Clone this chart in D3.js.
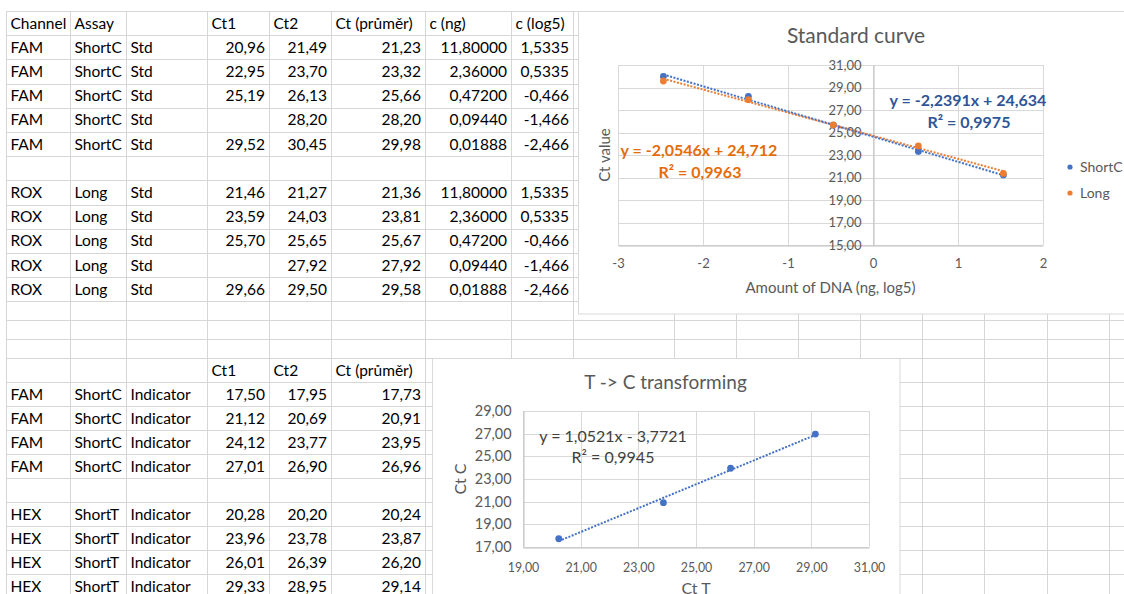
<!DOCTYPE html>
<html>
<head>
<meta charset="utf-8">
<script src="https://cdn.jsdelivr.net/npm/d3@7"></script>
<style>
  html, body { margin: 0; padding: 0; background: #fff; }
  svg { display: block; font-family: Lato, "Open Sans", sans-serif; }
</style>
</head>
<body>
<svg id="sheet" width="1124" height="594"></svg>
<script>
// ---- standard curve table
const stdHeader = ['Channel', 'Assay', '', 'Ct1', 'Ct2', 'Ct (průměr)', 'c (ng)', 'c (log5)'];
const shortCCt1 = [20.96, 22.95, 25.19, null, 29.52];
const shortCCt2 = [21.49, 23.70, 26.13, 28.20, 30.45];
const shortCCt = [21.23, 23.32, 25.66, 28.20, 29.98];
const longCt1 = [21.46, 23.59, 25.70, null, 29.66];
const longCt2 = [21.27, 24.03, 25.65, 27.92, 29.50];
const longCt = [21.36, 23.81, 25.67, 27.92, 29.58];
const dnaNg = [11.8, 2.36, 0.472, 0.0944, 0.01888];
const dnaLog5 = [1.5335, 0.5335, -0.466, -1.466, -2.466];

// ---- indicator table
const indHeader = ['Ct1', 'Ct2', 'Ct (průměr)'];
const indCCt1 = [17.50, 21.12, 24.12, 27.01];
const indCCt2 = [17.95, 20.69, 23.77, 26.90];
const indCCt = [17.73, 20.91, 23.95, 26.96];
const indTCt1 = [20.28, 23.96, 26.01, 29.33];
const indTCt2 = [20.20, 23.78, 26.39, 28.95];
const indTCt = [20.24, 23.87, 26.20, 29.14];

// trendlines: slope, intercept, r2
const shortCFit = [-2.2391, 24.634, 0.9975];
const longFit = [-2.0546, 24.712, 0.9963];
const transformFit = [1.0521, -3.7721, 0.9945];

// axis ticks
const stdXTicks = [-3, -2, -1, 0, 1, 2];
const stdYTicks = [15, 17, 19, 21, 23, 25, 27, 29, 31];
const tcXTicks = [19, 21, 23, 25, 27, 29, 31];
const tcYTicks = [17, 19, 21, 23, 25, 27, 29];
const seriesNames = ['ShortC', 'Long'];

// czech number format
const loc = d3.formatLocale({ decimal: ',', thousands: ' ', grouping: [3], currency: ['', ' Kč'], minus: '-' });
const f2 = loc.format('.2f');
const f5 = loc.format('.5f');
const f4 = loc.format('.4f');
const fInt = loc.format('d');
const fSig = loc.format('.5r');
const fLog = v => String(v).replace('.', ',');
const equation = fit => `y = ${fSig(fit[0])}x ${fit[1] < 0 ? '-' : '+'} ${fSig(Math.abs(fit[1]))}`;
const rSquared = fit => `R² = ${f4(fit[2])}`;

const svg = d3.select('#sheet');
svg.append('rect').attr('width', 1124).attr('height', 594).attr('fill', '#fff');

// ---- sheet grid
const colEdges = [6, 70, 126, 207, 269, 331, 425, 511, 573, 674, 736, 798, 860, 922, 984, 1047, 1109, 1171];
const rowEdges = [11, 35.2, 59.4, 83.6, 107.8, 132, 156.2, 180.4, 204.6, 228.8, 253, 277.2, 301.4,
  320, 339, 358, 382, 406, 430, 454, 478, 502, 526, 550, 574, 598];

const grid = svg.append('g').attr('stroke', '#d6d6d6').attr('stroke-width', 1);
grid.selectAll('.h').data(rowEdges).join('line')
  .attr('x1', colEdges[0]).attr('x2', 1124)
  .attr('y1', d => Math.round(d) + 0.5).attr('y2', d => Math.round(d) + 0.5);
grid.selectAll('.v').data(colEdges).join('line')
  .attr('x1', d => d + 0.5).attr('x2', d => d + 0.5)
  .attr('y1', rowEdges[0]).attr('y2', 594);

// build the cells
const cells = [];
function addRow(r, values) {
  values.forEach((v, c) => {
    if (v === '' || v == null) return;
    cells.push({ r, c, text: v.text || v, right: !!v.text });
  });
}
const num = (v, f) => v == null ? null : { text: f(v) };

addRow(0, stdHeader);
dnaLog5.forEach((d, i) => {
  addRow(1 + i, ['FAM', 'ShortC', 'Std', num(shortCCt1[i], f2), num(shortCCt2[i], f2), num(shortCCt[i], f2), num(dnaNg[i], f5), num(d, fLog)]);
  addRow(7 + i, ['ROX', 'Long', 'Std', num(longCt1[i], f2), num(longCt2[i], f2), num(longCt[i], f2), num(dnaNg[i], f5), num(d, fLog)]);
});
addRow(15, ['', '', ''].concat(indHeader));
indCCt.forEach((d, i) => {
  addRow(16 + i, ['FAM', 'ShortC', 'Indicator', num(indCCt1[i], f2), num(indCCt2[i], f2), num(d, f2)]);
  addRow(21 + i, ['HEX', 'ShortT', 'Indicator', num(indTCt1[i], f2), num(indTCt2[i], f2), num(indTCt[i], f2)]);
});

svg.append('g').attr('font-size', 15.5).attr('fill', '#000')
  .selectAll('text').data(cells).join('text')
  .attr('x', d => d.right ? colEdges[d.c + 1] - 4 : colEdges[d.c] + 4.5)
  .attr('y', d => (rowEdges[d.r] + rowEdges[d.r + 1]) / 2 + 5.5)
  .attr('text-anchor', d => d.right ? 'end' : 'start')
  .text(d => d.text);

// ---- helpers for the charts
function gridLines(g, x, y, xt, yt) {
  const gl = g.append('g').attr('stroke', '#d9d9d9');
  gl.selectAll('.gx').data(xt).join('line')
    .attr('x1', d => Math.round(x(d)) + 0.5).attr('x2', d => Math.round(x(d)) + 0.5)
    .attr('y1', y.range()[0]).attr('y2', y.range()[1]);
  gl.selectAll('.gy').data(yt).join('line')
    .attr('x1', x.range()[0]).attr('x2', x.range()[1])
    .attr('y1', d => Math.round(y(d)) + 0.5).attr('y2', d => Math.round(y(d)) + 0.5);
}
function styleAxis(g, size) {
  g.attr('font-family', null).attr('font-size', size);
  g.select('.domain').attr('stroke', '#bfbfbf');
  g.selectAll('text').attr('fill', '#595959');
}
function trend(g, x, y, xs, fit, color) {
  const ext = d3.extent(xs);
  g.append('line')
    .attr('x1', x(ext[0])).attr('y1', y(fit[0] * ext[0] + fit[1]))
    .attr('x2', x(ext[1])).attr('y2', y(fit[0] * ext[1] + fit[1]))
    .attr('stroke', color).attr('stroke-width', 2).attr('stroke-dasharray', '2 1.5');
}
function points(g, x, y, xs, ys, color) {
  g.selectAll(null).data(xs).join('circle')
    .attr('cx', d => x(d)).attr('cy', (d, i) => y(ys[i]))
    .attr('r', 3.4).attr('fill', color);
}

// ---- standard curve chart
const std = svg.append('g');
std.append('rect').attr('x', 578.5).attr('y', 11.5).attr('width', 600).attr('height', 302.5)
  .attr('fill', '#fff').attr('stroke', '#d9d9d9');
const sx = d3.scaleLinear().domain([-3, 2]).range([618, 1043]);
const sy = d3.scaleLinear().domain([15, 31]).range([245, 65]);
gridLines(std, sx, sy, stdXTicks, stdYTicks);

std.append('g').attr('transform', `translate(0,${Math.round(sy(15)) + 0.5})`)
  .call(d3.axisBottom(sx).tickValues(stdXTicks).tickSize(0).tickPadding(13).tickFormat(fInt))
  .call(g => styleAxis(g, 13));
std.append('g').attr('transform', `translate(${Math.round(sx(0)) + 0.5},0)`)
  .call(d3.axisLeft(sy).tickValues(stdYTicks).tickSize(0).tickPadding(12).tickFormat(f2))
  .call(g => styleAxis(g, 13));

std.append('text').attr('x', 856).attr('y', 42.5).attr('text-anchor', 'middle')
  .attr('font-size', 21).attr('fill', '#595959').text('Standard curve');
std.append('text').attr('x', 830.5).attr('y', 292.5).attr('text-anchor', 'middle')
  .attr('font-size', 15).attr('fill', '#595959').text('Amount of DNA (ng, log5)');
std.append('text').attr('transform', 'translate(605,155) rotate(-90)').attr('dy', '0.35em')
  .attr('text-anchor', 'middle').attr('font-size', 15).attr('fill', '#595959').text('Ct value');

const stdSeries = [
  { name: seriesNames[0], ys: shortCCt, fit: shortCFit, color: '#4472c4', ink: '#2f5597', lx: 968, ly: 106 },
  { name: seriesNames[1], ys: longCt, fit: longFit, color: '#ed7d31', ink: '#e46c0a', lx: 699, ly: 156 }
];
stdSeries.slice().reverse().forEach(s => trend(std, sx, sy, dnaLog5, s.fit, s.color));
stdSeries.forEach(s => points(std, sx, sy, dnaLog5, s.ys, s.color));
stdSeries.forEach(s => {
  const t = std.append('text').attr('text-anchor', 'middle').attr('font-size', 16)
    .attr('font-weight', 'bold').attr('fill', s.ink);
  t.append('tspan').attr('x', s.lx).attr('y', s.ly).text(equation(s.fit));
  t.append('tspan').attr('x', s.lx + 1).attr('y', s.ly + 21.5).text(rSquared(s.fit));
});

// legend
const leg = std.append('g').selectAll('g').data(stdSeries).join('g')
  .attr('transform', (d, i) => `translate(1070,${167 + i * 26})`);
leg.append('circle').attr('r', 2.6).attr('fill', d => d.color);
leg.append('text').attr('x', 10).attr('dy', '0.35em').attr('font-size', 14)
  .attr('fill', '#595959').text(d => d.name);

// ---- T -> C chart
const tc = svg.append('g');
tc.append('rect').attr('x', 432.5).attr('y', 358.5).attr('width', 467.5).attr('height', 250)
  .attr('fill', '#fff').attr('stroke', '#d9d9d9');
const tx = d3.scaleLinear().domain([19, 31]).range([523, 869]);
const ty = d3.scaleLinear().domain([17, 29]).range([547, 411]);
gridLines(tc, tx, ty, tcXTicks, tcYTicks);

tc.append('g').attr('transform', `translate(0,${Math.round(ty(17)) + 0.5})`)
  .call(d3.axisBottom(tx).tickValues(tcXTicks).tickSize(0).tickPadding(16).tickFormat(f2))
  .call(g => styleAxis(g, 12.4));
tc.append('g').attr('transform', `translate(${Math.round(tx(19)) + 0.5},0)`)
  .call(d3.axisLeft(ty).tickValues(tcYTicks).tickSize(0).tickPadding(12).tickFormat(f2))
  .call(g => styleAxis(g, 14.4));

tc.append('text').attr('x', 665.5).attr('y', 389).attr('text-anchor', 'middle')
  .attr('font-size', 19).attr('fill', '#595959').text('T -> C transforming');
tc.append('text').attr('x', 696).attr('y', 594).attr('text-anchor', 'middle')
  .attr('font-size', 16).attr('fill', '#595959').text('Ct T');
tc.append('text').attr('transform', 'translate(460,479) rotate(-90)').attr('dy', '0.35em')
  .attr('text-anchor', 'middle').attr('font-size', 16).attr('fill', '#595959').text('Ct C');

trend(tc, tx, ty, indTCt, transformFit, '#4472c4');
points(tc, tx, ty, indTCt, indCCt, '#4472c4');
const tt = tc.append('text').attr('text-anchor', 'middle').attr('font-size', 16).attr('fill', '#404040');
tt.append('tspan').attr('x', 613).attr('y', 441.5).text(equation(transformFit));
tt.append('tspan').attr('x', 613).attr('y', 462.5).text(rSquared(transformFit));
</script>
</body>
</html>
